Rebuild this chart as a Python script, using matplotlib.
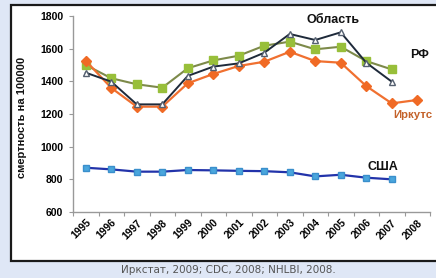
import matplotlib
matplotlib.use("Agg")
import matplotlib.pyplot as plt
from matplotlib.patches import Rectangle

# ── Data ──────────────────────────────────────────────────────────────────────
years = ["1995", "1996", "1997", "1998", "1999", "2000", "2001",
         "2002", "2003", "2004", "2005", "2006", "2007", "2008"]
irkutsk = [1526, 1360, 1245, 1245, 1388, 1445, 1494,
           1520, 1581, 1524, 1514, 1371, 1265, 1286]
rf = [1500, 1419, 1382, 1361, 1480, 1528, 1557,
      1618, 1643, 1596, 1612, 1524, 1473]
oblast = [1453, 1398, 1259, 1259, 1433, 1490, 1510,
          1575, 1690, 1653, 1700, 1514, 1398]
usa = [871, 861, 847, 847, 857, 855, 852,
       850, 843, 818, 828, 810, 800]

W, H = 436, 278
fig = plt.figure(figsize=(W / 100, H / 100), dpi=100)
fig.patch.set_facecolor("#dfe7f6")

# white panel with dark frame (right side runs off the picture)
fig.add_artist(Rectangle((10.5 / W, (H - 261) / H), 1.0, 256 / H,
                         transform=fig.transFigure, facecolor="white",
                         edgecolor="#1a1a1a", lw=1.6, clip_on=False,
                         zorder=-5))

ax = fig.add_axes([73 / W, (H - 212) / H, 357 / W, 196 / H])
ax.set_facecolor("none")

x = list(range(len(years)))

ax.plot(x[:len(usa)], usa, color="#2233aa", lw=1.6, marker="s", ms=5,
        mfc="#4aa6dd", mec="#3a8fcc", zorder=3)
ax.plot(x[:len(rf)], rf, color="#7d8a4a", lw=1.5, marker="s", ms=5.5,
        mfc="#98bf3a", mec="#98bf3a", zorder=3)
ax.plot(x[:len(oblast)], oblast, color="#1e2a3a", lw=1.4, marker="^", ms=4.5,
        mfc="white", mec="#556070", zorder=4)
ax.plot(x[:len(irkutsk)], irkutsk, color="#f07030", lw=1.6, marker="D", ms=5.5,
        mfc="#f06a25", mec="#f06a25", zorder=3)

# series labels
ax.text(9.7, 1775, "Область", fontsize=9, fontweight="bold", ha="center",
        va="center", color="#111111", family="Liberation Sans")
ax.text(13.1, 1561, "РФ", fontsize=9, fontweight="bold", ha="center",
        va="center", color="#111111", family="Liberation Sans")
ax.text(12.05, 1194, "Иркутс", fontsize=8.2, fontweight="bold", ha="left",
        va="center", color="#c4622a", family="Liberation Sans", clip_on=False)
ax.text(11.05, 878, "США", fontsize=9, fontweight="bold", ha="left",
        va="center", color="#111111", family="Liberation Sans")

ax.set_xlim(-0.5, 13.5)
ax.set_ylim(600, 1800)
ax.set_yticks([600, 800, 1000, 1200, 1400, 1600, 1800])
ax.set_xticks([i - 0.5 for i in range(len(years) + 1)])
ax.set_xticklabels([])
ax.set_xticks(x, minor=True)
ax.set_xticklabels(years, minor=True, rotation=45, ha="right",
                   rotation_mode="anchor", fontsize=7.5, fontweight="bold",
                   family="Liberation Sans")
ax.tick_params(axis="x", which="minor", length=0, pad=4)
ax.tick_params(axis="x", which="major", length=3, color="#999999")
ax.tick_params(axis="y", length=3, color="#999999", pad=4)
for lab in ax.get_yticklabels():
    lab.set_fontsize(7.5)
    lab.set_fontweight("bold")
    lab.set_family("Liberation Sans")

for s in ["top", "right"]:
    ax.spines[s].set_visible(False)
for s in ["left", "bottom"]:
    ax.spines[s].set_color("#999999")
    ax.spines[s].set_linewidth(1.0)

fig.text(22 / W, 1 - 117 / H, "смертность на 100000", rotation=90,
         ha="center", va="center", fontsize=8, fontweight="bold",
         family="Liberation Sans", color="#111111")

fig.text(228 / W, 1 - 270 / H, "Иркстат, 2009; CDC, 2008; NHLBI, 2008.",
         ha="center", va="center", fontsize=7.5, color="#555555",
         family="DejaVu Sans")

fig.savefig("out.png", dpi=100, facecolor=fig.get_facecolor())
